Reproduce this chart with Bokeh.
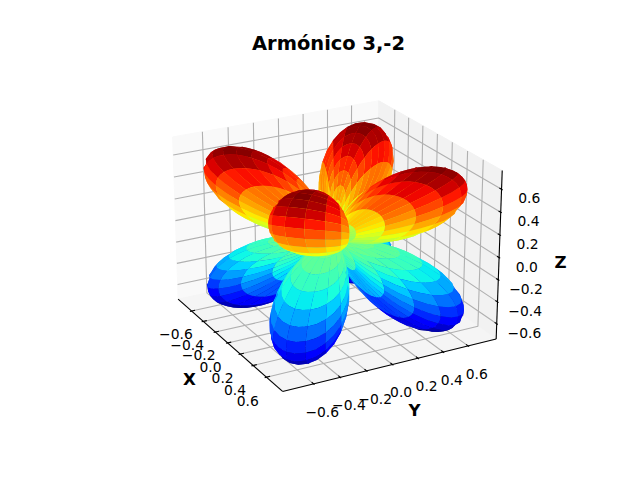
import numpy as np
from bokeh.plotting import figure
from bokeh.models import Range1d
from bokeh.core.properties import value
from bokeh.embed import file_html
from bokeh.resources import INLINE

title_text = "Armónico 3,-2"
axis_names = ["X", "Y", "Z"]
tick_values = [-0.6, -0.4, -0.2, 0.0, 0.2, 0.4, 0.6]
tick_labels = ["\u22120.6", "\u22120.4", "\u22120.2", "0.0", "0.2", "0.4", "0.6"]
x_limits = [-0.803, 0.803]
y_limits = [-0.796, 0.796]
z_limits = [-0.710, 0.732]
elevation = 22.6
azimuth = -28.5
radius_scale = 2.0
n_theta = 45
n_phi = 45
sub = 2

lo = np.array([x_limits[0], y_limits[0], z_limits[0]])
hi = np.array([x_limits[1], y_limits[1], z_limits[1]])
aspect = np.array([4.0, 4.0, 3.0])
aspect = aspect * 1.8294640721620434 * 25 / 24 / np.linalg.norm(aspect)
el, az = np.radians(elevation), np.radians(azimuth)
w = np.array([np.cos(el) * np.cos(az), np.cos(el) * np.sin(az), np.sin(el)])
eye = 0.5 * aspect + 10 * w
u_ = np.cross([0, 0, 1.0], w)
u_ /= np.linalg.norm(u_)
v_ = np.cross(w, u_)


def view(P):
    P = np.asarray(P, dtype=float)
    return (P - lo) / (hi - lo) * aspect - eye


def project(P):
    V = view(P)
    d = -(V @ w)
    return (V @ u_) / d, (V @ v_) / d


K, CX, CY = 1924.3, 333.05, 236.93


def to_px(P):
    x, y = project(P)
    return CX + K * x, CY - K * y


def data_x(px):
    return (px - CX) / K


def data_y(py):
    return (CY - py) / K


p = figure(width=624, height=464, output_backend="svg", toolbar_location=None,
           x_range=Range1d(data_x(0.0), data_x(624.0)),
           y_range=Range1d(data_y(464.0), data_y(0.0)),
           x_axis_type=None, y_axis_type=None, min_border=0)
p.outline_line_color = None
p.grid.visible = False
p.background_fill_color = "white"

delta = (hi - lo) / 12
b0 = lo - delta / 4
b1 = hi + delta / 4
xa, ya, za = b0
xb, yb, zb = b1


def poly(points, fill):
    x, y = project(points)
    p.patch(list(x), list(y), fill_color=fill, line_color=fill, line_width=1)


poly([[xa, ya, za], [xa, yb, za], [xa, yb, zb], [xa, ya, zb]], "#f9f9f9")
poly([[xa, yb, za], [xb, yb, za], [xb, yb, zb], [xa, yb, zb]], "#f2f2f2")
poly([[xa, ya, za], [xb, ya, za], [xb, yb, za], [xa, yb, za]], "#f5f5f5")

GRID = "#b0b0b0"
LW = 1.11


def seg(points, color=GRID, lw=LW):
    x, y = project(points)
    p.line(list(x), list(y), line_color=color, line_width=lw)


for t in tick_values:
    seg([[t, ya, za], [t, yb, za], [t, yb, zb]])
    seg([[xb, t, za], [xa, t, za], [xa, t, zb]])
    seg([[xa, ya, t], [xa, yb, t], [xb, yb, t]])

# surface: real spherical harmonic l=3, m=-2; each cell keeps a finer perimeter
theta = np.linspace(0, np.pi, n_theta * sub + 1)
phi = np.linspace(0, 2 * np.pi, n_phi * sub + 1)
TH, PH = np.meshgrid(theta, phi, indexing="ij")
Y = np.sqrt(105 / (4 * np.pi)) * 0.5 * np.sin(TH) ** 2 * np.cos(TH) * np.sin(2 * PH)
r = np.abs(Y) * radius_scale
PTS = np.stack([r * np.sin(TH) * np.cos(PH), r * np.sin(TH) * np.sin(PH), r * np.cos(TH)], axis=-1)

polys = []
for i in range(n_theta):
    for j in range(n_phi):
        c = PTS[i * sub:(i + 1) * sub + 1, j * sub:(j + 1) * sub + 1]
        per = np.concatenate([c[0, :-1], c[:-1, -1], c[-1, :0:-1], c[:0:-1, 0]])
        if np.ptp(per, axis=0).max() > 1e-4:
            polys.append(per)
polys = np.array(polys)
avgz = polys[:, :, 2].mean(axis=1)
depth = (view(polys) @ w).mean(axis=1)
order = np.argsort(depth)
norm = (avgz - avgz.min()) / (avgz.max() - avgz.min())


def jet(t):
    r_ = np.interp(t, [0, 0.35, 0.66, 0.89, 1], [0, 0, 1, 1, 0.5])
    g_ = np.interp(t, [0, 0.125, 0.375, 0.64, 0.91, 1], [0, 0, 1, 1, 0, 0])
    b_ = np.interp(t, [0, 0.11, 0.34, 0.65, 1], [0.5, 1, 1, 0, 0])
    return r_, g_, b_


cr, cg, cb = jet(norm)
colors = ["#%02x%02x%02x" % (int(a * 255), int(b * 255), int(c * 255)) for a, b, c in zip(cr, cg, cb)]
xs, ys, fills = [], [], []
for i in order:
    x, y = project(polys[i])
    xs.append(np.round(x, 6).tolist())
    ys.append(np.round(y, 6).tolist())
    fills.append(colors[i])
p.patches(xs, ys, fill_color=fills, line_color=None)

seg([[xa, ya, za], [xb, ya, za]], "black")
seg([[xb, ya, za], [xb, yb, za]], "black")
seg([[xb, yb, za], [xb, yb, zb]], "black")
dd = delta[0]
for t in tick_values:
    seg([[t, ya + 0.2 * dd, za], [t, ya - 0.1 * dd, za]], "black")
    seg([[xb - 0.2 * dd, t, za], [xb + 0.1 * dd, t, za]], "black")
    seg([[xb - 0.2 * dd, yb, t], [xb + 0.1 * dd, yb, t]], "black")


def label(px, py, s, size="13.89px", bold=False):
    p.text([data_x(float(px))], [data_y(float(py))], text=[s], text_font=value("DejaVu Sans"),
           text_font_size=size, text_color="black", text_align="center", text_baseline="middle",
           text_font_style="bold" if bold else "normal")


for t, s in zip(tick_values, tick_labels):
    f = (t + 0.6) / 1.2
    a, b = to_px([t, ya, za])
    label(a - 15.7 - 3 * f, b + 23 + 1.3 * f, s)
    a, b = to_px([xb, t, za])
    label(a + 8.7, b + 27.7, s)
    a, b = to_px([xb, yb, t])
    label(a + 27.7, b + 9, s)

label(189, 379, axis_names[0], "16.67px", True)
label(414, 410, axis_names[1], "16.67px", True)
label(560, 262, axis_names[2], "16.67px", True)
label(328, 43, title_text, "19.44px", True)

open("out.html", "w").write(file_html(p, INLINE))
